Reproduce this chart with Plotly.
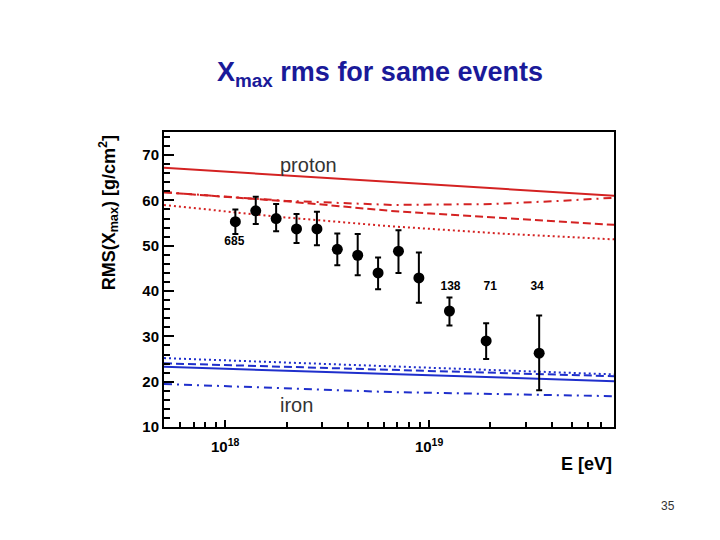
import plotly.graph_objects as go

# ---- data ----
log_e = [18.05, 18.15, 18.25, 18.35, 18.45, 18.55, 18.65, 18.75, 18.85, 18.95, 19.10, 19.28, 19.54]
rms = [55.3, 57.7, 56.0, 53.7, 53.7, 49.2, 47.9, 44.0, 48.8, 42.9, 35.6, 29.0, 26.3]
err_up = [2.7, 3.1, 3.2, 3.3, 3.8, 3.5, 4.7, 3.4, 4.6, 5.6, 3.0, 3.9, 8.3]
err_dn = [2.7, 2.9, 2.8, 3.1, 3.6, 3.5, 4.4, 3.6, 4.8, 5.5, 3.2, 4.0, 8.2]

count_labels = ["685", "138", "71", "34"]
count_log_e = [18.045, 19.105, 19.30, 19.53]
count_y = [50.8, 41.0, 41.0, 41.0]

p_solid_x = [17.70, 19.91]
p_solid_y = [67.2, 61.0]
p_dash_x = [17.70, 18.30, 18.81, 19.91]
p_dash_y = [61.8, 59.8, 57.7, 54.6]
p_dashdot_x = [17.70, 18.30, 18.82, 19.31, 19.64, 19.91]
p_dashdot_y = [61.8, 59.9, 59.0, 59.2, 59.9, 60.6]
p_dot_x = [17.70, 18.255, 18.81, 19.35, 19.91]
p_dot_y = [59.0, 56.4, 54.3, 52.7, 51.4]

fe_dot_x = [17.70, 19.91]
fe_dot_y = [25.2, 21.6]
fe_dash_x = [17.70, 19.91]
fe_dash_y = [24.05, 21.2]
fe_solid_x = [17.70, 19.91]
fe_solid_y = [23.3, 20.1]
fe_dashdot_x = [17.70, 18.82, 19.91]
fe_dashdot_y = [19.5, 17.7, 16.8]

y_ticks = [10, 20, 30, 40, 50, 60, 70]
x_tickvals_log = [18, 19]
x_ticktext = ["10<sup>18</sup>", "10<sup>19</sup>"]

RED = "#d42222"
BLUE = "#1f2fcc"
FONT = "Liberation Sans, Arial, sans-serif"

# page body has an 8px margin; figure is sized/placed to compensate
W, H = 712, 532
OFF = 8

def pw(v):
    return [10.0 ** a for a in v]

fig = go.Figure()

def add_line(xs, ys, color, dash):
    fig.add_trace(go.Scatter(x=pw(xs), y=ys, mode="lines",
                             line=dict(color=color, width=2, dash=dash),
                             hoverinfo="skip", showlegend=False))

add_line(p_solid_x, p_solid_y, RED, "solid")
add_line(p_dash_x, p_dash_y, RED, "8px,4px")
add_line(p_dashdot_x, p_dashdot_y, RED, "8px,5px,2px,5px")
add_line(p_dot_x, p_dot_y, RED, "2px,3px")
add_line(fe_dot_x, fe_dot_y, BLUE, "2px,3px")
add_line(fe_dash_x, fe_dash_y, BLUE, "8px,4px")
add_line(fe_solid_x, fe_solid_y, BLUE, "solid")
add_line(fe_dashdot_x, fe_dashdot_y, BLUE, "8px,5px,2px,5px")

fig.add_trace(go.Scatter(
    x=pw(log_e), y=rms, mode="markers",
    marker=dict(color="black", size=11),
    error_y=dict(type="data", symmetric=False, array=err_up, arrayminus=err_dn,
                 color="black", thickness=2, width=3),
    showlegend=False))

fig.add_trace(go.Scatter(
    x=pw(count_log_e), y=count_y, mode="text", text=count_labels,
    textfont=dict(family=FONT, size=12, color="black", weight="bold"),
    showlegend=False))

# minor ticks on log x axis
minor_x = []
for dec in [17, 18, 19]:
    for m in range(2, 10):
        v = float(m) * 10.0 ** dec
        if 10.0 ** 17.70 <= v <= 10.0 ** 19.91:
            minor_x.append(v)

fig.update_xaxes(
    type="log", range=[17.70, 19.907],
    tickvals=pw(x_tickvals_log), ticktext=x_ticktext,
    ticks="inside", ticklen=7, tickwidth=1.5, tickcolor="black",
    minor=dict(tickvals=minor_x, ticks="inside", ticklen=5, tickwidth=1.5, tickcolor="black"),
    showline=True, linecolor="black", linewidth=2, mirror=True,
    showgrid=False, zeroline=False, ticklabelstandoff=5,
    tickfont=dict(family=FONT, size=15, color="black", weight="bold"),
)
fig.update_yaxes(
    range=[10, 75.1], tickvals=y_ticks,
    ticks="inside", ticklen=10, tickwidth=1.5, tickcolor="black",
    minor=dict(dtick=2, ticks="inside", ticklen=6, tickwidth=1.5, tickcolor="black"),
    showline=True, linecolor="black", linewidth=2, mirror=True,
    showgrid=False, zeroline=False,
    tickfont=dict(family=FONT, size=15, color="black", weight="bold"),
)

fig.add_annotation(x=18.407, y=67.8, xref="x", yref="y", text="proton", showarrow=False,
                   font=dict(family=FONT, size=20, color="#333333"))
fig.add_annotation(x=18.35, y=14.9, xref="x", yref="y", text="iron", showarrow=False,
                   font=dict(family=FONT, size=20, color="#333333"))

fig.add_annotation(x=-0.124, y=0.725, xref="paper", yref="paper",
                   xanchor="center", yanchor="middle",
                   text="RMS(X<sub>max</sub>) [g/cm<sup>2</sup>]", textangle=-90,
                   showarrow=False, font=dict(family=FONT, size=18, color="black", weight="bold"))
fig.add_annotation(x=1.0, y=-0.125, xref="paper", yref="paper", xanchor="right", yanchor="middle",
                   text="E [eV]", showarrow=False,
                   font=dict(family=FONT, size=18, color="black", weight="bold"))
fig.add_annotation(x=1.12, y=-0.268, xref="paper", yref="paper", xanchor="center", yanchor="middle",
                   text="35", showarrow=False,
                   font=dict(family=FONT, size=12, color="#333333"))

fig.update_layout(
    width=W, height=H,
    margin=dict(l=164 - OFF, r=106, t=132 - OFF, b=113),
    paper_bgcolor="white", plot_bgcolor="white",
    title=dict(text="X<sub>max</sub> rms for same events", x=(380 - OFF) / W, xanchor="center",
               y=1 - (72 - OFF) / H, yanchor="middle",
               font=dict(family=FONT, size=27, color="#1a1a99", weight="bold")),
    showlegend=False,
)

fig.write_html("out.html")
